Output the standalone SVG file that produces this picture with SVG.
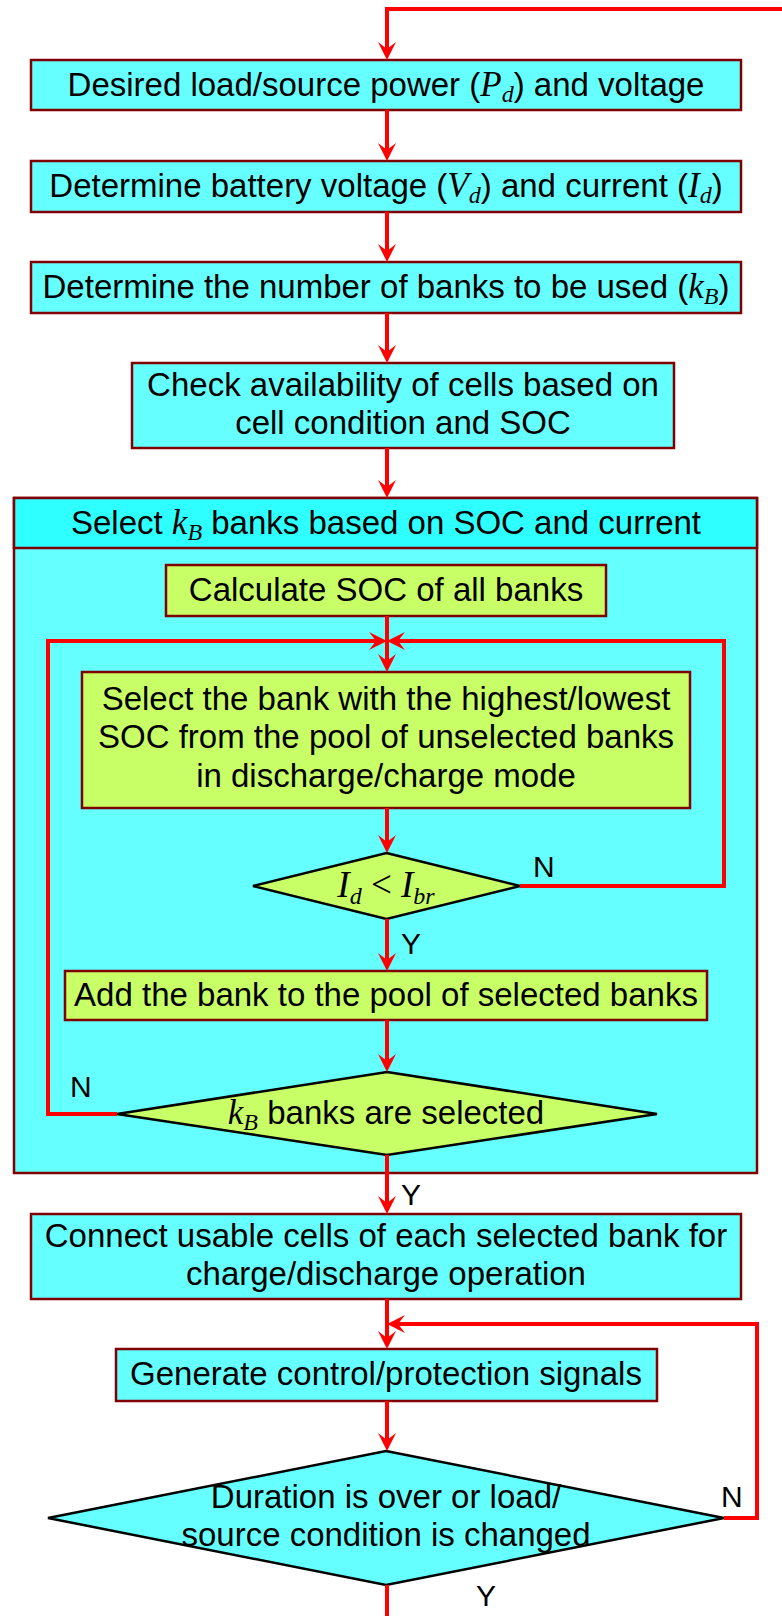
<svg xmlns="http://www.w3.org/2000/svg" width="782" height="1616" viewBox="0 0 782 1616">
<defs>
<style>
.box{fill:#66FFFF;stroke:#800000;stroke-width:2.5}
.hdr{fill:#2EFFFF;stroke:#800000;stroke-width:2.5}
.gbox{fill:#C8FF66;stroke:#800000;stroke-width:2.5}
.gdia{fill:#C8FF66;stroke:#000;stroke-width:2.5;stroke-linejoin:miter}
.cdia{fill:#66FFFF;stroke:#000;stroke-width:2.5;stroke-linejoin:miter}
.conn{fill:none;stroke:#FF0000;stroke-width:4;stroke-linejoin:miter}
text{font-family:"Liberation Sans",Arial,sans-serif;font-size:33px;fill:#000;text-anchor:middle}
.lbl{font-size:30px;text-anchor:start}
.m{font-family:"Liberation Serif","Times New Roman",serif;font-style:italic;font-size:35px}
.s{font-family:"Liberation Serif","Times New Roman",serif;font-style:italic;font-size:24px}
.r{font-family:"Liberation Serif","Times New Roman",serif;font-size:37px}
</style>
<marker id="ah" markerUnits="userSpaceOnUse" markerWidth="24" markerHeight="24" viewBox="-12 -12 24 24" refX="0" refY="0" orient="auto" overflow="visible">
<path d="M10,0 L-8,-9 L-1,0 L-8,9 Z" fill="#FF0000"/>
</marker>
</defs>

<g id="container">
<rect class="box" x="14" y="498" width="743" height="675"/>
<rect class="hdr" x="14" y="498" width="743" height="50"/>
<text x="386" y="534">Select <tspan class="m">k</tspan><tspan class="s" dy="6">B</tspan><tspan dy="-6"> banks based on SOC and current</tspan></text>
</g>

<g id="n1">
<rect class="box" x="31" y="60" width="710" height="50"/>
<text x="386" y="96">Desired load/source power (<tspan class="m">P</tspan><tspan class="s" dy="6">d</tspan><tspan dy="-6">) and voltage</tspan></text>
</g>
<g id="n2">
<rect class="box" x="31" y="161" width="710" height="51"/>
<text x="386" y="197">Determine battery voltage (<tspan class="m">V</tspan><tspan class="s" dy="6">d</tspan><tspan dy="-6">) and current (</tspan><tspan class="m">I</tspan><tspan class="s" dy="6">d</tspan><tspan dy="-6">)</tspan></text>
</g>
<g id="n3">
<rect class="box" x="31" y="262" width="710" height="51"/>
<text x="386" y="298">Determine the number of banks to be used (<tspan class="m">k</tspan><tspan class="s" dy="6">B</tspan><tspan dy="-6">)</tspan></text>
</g>
<g id="n4">
<rect class="box" x="132" y="363" width="542" height="85"/>
<text x="403" y="396">Check availability of cells based on</text>
<text x="403" y="434">cell condition and SOC</text>
</g>

<g id="n5">
<rect class="gbox" x="166" y="565" width="440" height="51"/>
<text x="386" y="601">Calculate SOC of all banks</text>
</g>
<g id="n6">
<rect class="gbox" x="82" y="672" width="608" height="136"/>
<text x="386" y="710">Select the bank with the highest/lowest</text>
<text x="386" y="748">SOC from the pool of unselected banks</text>
<text x="386" y="787">in discharge/charge mode</text>
</g>
<g id="d1">
<polygon class="gdia" points="386.5,853 520,886 386.5,919 253,886"/>
<text x="386" y="897"><tspan class="r" font-style="italic">I</tspan><tspan class="s" dy="7">d</tspan><tspan class="r" dy="-7"> &lt; </tspan><tspan class="r" font-style="italic">I</tspan><tspan class="s" dy="7">br</tspan></text>
</g>
<g id="n7">
<rect class="gbox" x="65" y="971" width="642" height="49"/>
<text x="386" y="1006">Add the bank to the pool of selected banks</text>
</g>
<g id="d2">
<polygon class="gdia" points="387,1072 657,1114 387,1155 117,1114"/>
<text x="386" y="1124"><tspan class="m">k</tspan><tspan class="s" dy="6">B</tspan><tspan dy="-6"> banks are selected</tspan></text>
</g>

<g id="n8">
<rect class="box" x="31" y="1214" width="710" height="85"/>
<text x="386" y="1247">Connect usable cells of each selected bank for</text>
<text x="386" y="1285">charge/discharge operation</text>
</g>
<g id="n9">
<rect class="box" x="116" y="1349" width="541" height="52"/>
<text x="386" y="1385">Generate control/protection signals</text>
</g>
<g id="d3">
<polygon class="cdia" points="386,1451 724,1518 386,1585 48,1518"/>
<text x="386" y="1508">Duration is over or load/</text>
<text x="386" y="1546">source condition is changed</text>
</g>

<g id="connectors">
<path class="conn" d="M782,9 H387 V50" marker-end="url(#ah)"/>
<path class="conn" d="M387,110 V151" marker-end="url(#ah)"/>
<path class="conn" d="M387,212 V252" marker-end="url(#ah)"/>
<path class="conn" d="M387,313 V353" marker-end="url(#ah)"/>
<path class="conn" d="M387,448 V488" marker-end="url(#ah)"/>
<path class="conn" d="M387,616 V662" marker-end="url(#ah)"/>
<path class="conn" d="M117,1114 H48 V641 H377" marker-end="url(#ah)"/>
<path class="conn" d="M520,886 H724 V641 H397" marker-end="url(#ah)"/>
<path class="conn" d="M387,808 V843" marker-end="url(#ah)"/>
<path class="conn" d="M387,919 V961" marker-end="url(#ah)"/>
<path class="conn" d="M387,1020 V1062" marker-end="url(#ah)"/>
<path class="conn" d="M387,1155 V1204" marker-end="url(#ah)"/>
<path class="conn" d="M387,1299 V1339" marker-end="url(#ah)"/>
<path class="conn" d="M724,1518 H757 V1324 H397" marker-end="url(#ah)"/>
<path class="conn" d="M387,1401 V1441" marker-end="url(#ah)"/>
<path class="conn" d="M387,1585 V1616"/>
<text class="lbl" x="533" y="877">N</text>
<text class="lbl" x="401" y="954">Y</text>
<text class="lbl" x="70" y="1097">N</text>
<text class="lbl" x="401" y="1205">Y</text>
<text class="lbl" x="721" y="1507">N</text>
<text class="lbl" x="476" y="1606">Y</text>
</g>
</svg>
